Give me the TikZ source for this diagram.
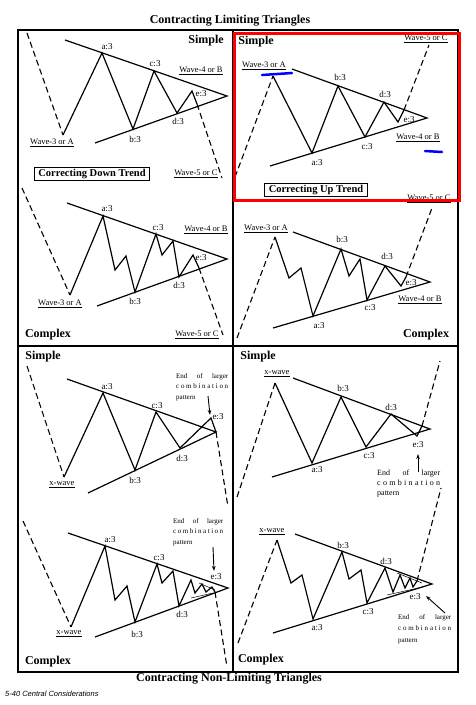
\documentclass[tikz,border=0pt]{standalone}
\usepackage{fontspec}
\setmainfont{Liberation Serif}
\newfontfamily\footfont{Liberation Sans}
\usetikzlibrary{arrows.meta}
\newcommand{\combnote}[1]{\makebox[#1][s]{End\hfill of\hfill larger}\\\makebox[#1][s]{c\hfill o\hfill m\hfill b\hfill i\hfill n\hfill a\hfill t\hfill i\hfill o\hfill n}\\pattern}

\begin{document}
\begin{tikzpicture}[x=1pt,y=-1pt,
  wave/.style={black, line width=1.2pt},
  trend/.style={black, line width=1.2pt},
  ext/.style={black, line width=1.1pt, dash pattern=on 6pt off 3.5pt},
  inner/.style={black, line width=0.5pt},
  lbl/.style={font=\fontsize{9}{10}\selectfont, inner sep=0pt},
  wlbl/.style={font=\fontsize{8.5}{10}\selectfont, inner sep=0pt},
  kind/.style={font=\fontsize{12}{14}\selectfont\bfseries, inner sep=0pt},
  heading/.style={font=\fontsize{12}{14}\selectfont\bfseries, inner sep=0pt},
  trendbox/.style={draw, line width=0.8pt, font=\fontsize{10.5}{12}\selectfont\bfseries, inner xsep=4pt, inner ysep=2pt},
  note/.style={font=\fontsize{7}{10.5}\selectfont, align=left, inner sep=0pt, anchor=north west},
  pointer/.style={black, line width=0.9pt, -{Stealth[length=5pt,width=3.5pt]}}]
\useasboundingbox (0,0) rectangle (476,705);
\node[heading] (toptitle) at (230,21) {Contracting Limiting Triangles};
\node[heading] (bottitle) at (229,679) {Contracting Non-Limiting Triangles};
\node[anchor=west, inner sep=0pt, font=\footfont\itshape\fontsize{7.5}{9}\selectfont] (foot) at (5,694) {5-40 Central Considerations};
% frame
\draw[line width=1.4pt] (18,30) rectangle (458,672);
\draw[line width=1.8pt] (233,30) -- (233,672);
\draw[line width=1.8pt] (18,346) -- (458,346);

% limiting, simple, down trend
\draw[ext] (27,33) -- (63,135);
\draw[wave] (63,135) -- (102,53) -- (133,129) -- (154,71) -- (177,113) -- (192,91) -- (197,104);
\draw[ext] (197,104) -- (222,178);
\draw[trend] (65,40) -- (227,96) -- (95,143);
\node[kind] (kind1) at (206,41) {Simple};
\node[lbl] (a1) at (107,47) {a:3};
\node[lbl] (b1) at (135,139) {b:3};
\node[lbl] (c1) at (155,64) {c:3};
\node[lbl] (d1) at (178,121) {d:3};
\node[lbl] (e1) at (201,94) {e:3};
\node[wlbl] (wa1) at (52,143) {\underline{Wave-3 or A}};
\node[wlbl] (wb1) at (201,71) {\underline{Wave-4 or B}};
\node[wlbl] (wc1) at (196,174) {\underline{Wave-5 or C}};
\node[trendbox] (box1) at (92,174) {Correcting Down Trend};

% limiting, simple, up trend
\draw[ext] (235,177) -- (273,76);
\draw[wave] (273,76) -- (312,153) -- (338,86) -- (365,137) -- (384,102) -- (398,122) -- (404,110);
\draw[ext] (404,110) -- (429,45);
\draw[trend] (292,69) -- (427,118) -- (270,166);
\node[kind] (kind2) at (256,42) {Simple};
\node[lbl] (a2) at (317,163) {a:3};
\node[lbl] (b2) at (340,77) {b:3};
\node[lbl] (c2) at (367,147) {c:3};
\node[lbl] (d2) at (385,94) {d:3};
\node[lbl] (e2) at (409,120) {e:3};
\node[wlbl] (wa2) at (264,66) {\underline{Wave-3 or A}};
\node[wlbl] (wb2) at (418,138) {\underline{Wave-4 or B}};
\node[wlbl] (wc2) at (426,39) {\underline{Wave-5 or C}};
\node[trendbox] (box2) at (316,190) {Correcting Up Trend};

% limiting, complex, down trend
\draw[ext] (22,188) -- (70,295);
\draw[wave] (70,295) -- (103,216) -- (115,270) -- (126,256) -- (135,292) -- (156,234) -- (162,255) -- (173,241) -- (179,277) -- (193,255) -- (199,268);
\draw[ext] (199,268) -- (223,335);
\draw[trend] (67,203) -- (227,259) -- (97,306);
\node[kind] (kind3) at (48,335) {Complex};
\node[lbl] (a3) at (107,209) {a:3};
\node[lbl] (b3) at (135,301) {b:3};
\node[lbl] (c3) at (158,228) {c:3};
\node[lbl] (d3) at (179,285) {d:3};
\node[lbl] (e3) at (201,258) {e:3};
\node[wlbl] (wa3) at (60,304) {\underline{Wave-3 or A}};
\node[wlbl] (wb3) at (206,230) {\underline{Wave-4 or B}};
\node[wlbl] (wc3) at (197,335) {\underline{Wave-5 or C}};

% limiting, complex, up trend
\draw[ext] (237,338) -- (275,237);
\draw[wave] (275,237) -- (289,278) -- (301,268) -- (313,316) -- (341,249) -- (349,276) -- (360,259) -- (367,300) -- (385,266) -- (401,286) -- (406,277);
\draw[ext] (406,277) -- (432,208);
\draw[trend] (293,232) -- (430,282) -- (273,328);
\node[kind] (kind4) at (426,335) {Complex};
\node[lbl] (a4) at (319,326) {a:3};
\node[lbl] (b4) at (342,239) {b:3};
\node[lbl] (c4) at (370,308) {c:3};
\node[lbl] (d4) at (387,256) {d:3};
\node[lbl] (e4) at (411,283) {e:3};
\node[wlbl] (wa4) at (266,229) {\underline{Wave-3 or A}};
\node[wlbl] (wb4) at (420,300) {\underline{Wave-4 or B}};
\node[wlbl] (wc4) at (429,199) {\underline{Wave-5 or C}};

% highlight
\draw[red, line width=3pt] (234,33) rectangle (459,200);
\draw[blue, line width=2.5pt, line cap=round] (262,75) -- (292,73);
\draw[blue, line width=2.5pt, line cap=round] (425,151) -- (442,152);

% non-limiting, simple, down
\draw[ext] (27,366) -- (64,477);
\draw[wave] (64,477) -- (103,393) -- (135,470) -- (156,412) -- (180,448) -- (211,418) -- (216,432);
\draw[ext] (216,432) -- (228,507);
\draw[trend] (67,379) -- (216,432) -- (88,493);
\node[kind] (kind5) at (43,357) {Simple};
\node[lbl] (a5) at (107,387) {a:3};
\node[lbl] (b5) at (135,480) {b:3};
\node[lbl] (c5) at (157,406) {c:3};
\node[lbl] (d5) at (182,458) {d:3};
\node[lbl] (e5) at (218,417) {e:3};
\node[wlbl] (xw5) at (62,485) {\underline{x-wave}};
\node[note] (note5) at (176,373) {\combnote{52pt}};
\draw[pointer] (208,396) -- (210,415);

% non-limiting, simple, up
\draw[ext] (237,497) -- (275,383);
\draw[wave] (275,383) -- (312,463) -- (341,397) -- (366,447) -- (391,414) -- (417,436) -- (422,426);
\draw[ext] (422,426) -- (440,361);
\draw[trend] (293,378) -- (430,429) -- (272,477);
\node[kind] (kind6) at (258,357) {Simple};
\node[lbl] (a6) at (317,470) {a:3};
\node[lbl] (b6) at (343,388) {b:3};
\node[lbl] (c6) at (369,456) {c:3};
\node[lbl] (d6) at (391,407) {d:3};
\node[lbl] (e6) at (418,445) {e:3};
\node[wlbl] (xw6) at (277,374) {\underline{x-wave}};
\node[note, font=\fontsize{8}{10}\selectfont] (note6) at (377,470) {\combnote{63pt}};
\draw[pointer] (418,472) -- (418,454);

% non-limiting, complex, down
\draw[ext] (23,521) -- (71,627);
\draw[wave] (71,627) -- (105,546) -- (115,600) -- (127,586) -- (135,622) -- (157,564) -- (162,583) -- (173,571) -- (179,606) -- (191,580) -- (195,593) -- (202,584) -- (206,592) -- (212,587) -- (215,592);
\draw[ext] (215,592) -- (227,667);
\draw[trend] (68,533) -- (228,588) -- (95,637);
\draw[inner] (199,583) -- (215,590);
\draw[inner] (191,598) -- (213,593);
\node[kind] (kind7) at (48,662) {Complex};
\node[lbl] (a7) at (110,540) {a:3};
\node[lbl] (b7) at (137,634) {b:3};
\node[lbl] (c7) at (159,558) {c:3};
\node[lbl] (d7) at (182,614) {d:3};
\node[lbl] (e7) at (216,577) {e:3};
\node[wlbl] (xw7) at (69,634) {\underline{x-wave}};
\node[note] (note7) at (173,518) {\combnote{50pt}};
\draw[pointer] (213,547) -- (214,571);

% non-limiting, complex, up
\draw[ext] (238,643) -- (277,540);
\draw[wave] (277,540) -- (291,583) -- (302,575) -- (313,619) -- (342,552) -- (349,579) -- (361,570) -- (367,603) -- (385,568) -- (393,592) -- (400,575) -- (405,588) -- (410,578) -- (413,587) -- (417,581);
\draw[ext] (417,581) -- (441,488);
\draw[trend] (295,534) -- (432,584) -- (273,633);
\draw[inner] (397,573) -- (422,583);
\draw[inner] (387,595) -- (423,587);
\node[kind] (kind8) at (261,660) {Complex};
\node[lbl] (a8) at (317,628) {a:3};
\node[lbl] (b8) at (343,545) {b:3};
\node[lbl] (c8) at (368,612) {c:3};
\node[lbl] (d8) at (386,561) {d:3};
\node[lbl] (e8) at (415,597) {e:3};
\node[wlbl] (xw8) at (272,532) {\underline{x-wave}};
\node[note, font=\fontsize{7}{11.5}\selectfont] (note8) at (398,614) {\combnote{53pt}};
\draw[pointer] (445,613) -- (426,596);
\end{tikzpicture}
\end{document}
